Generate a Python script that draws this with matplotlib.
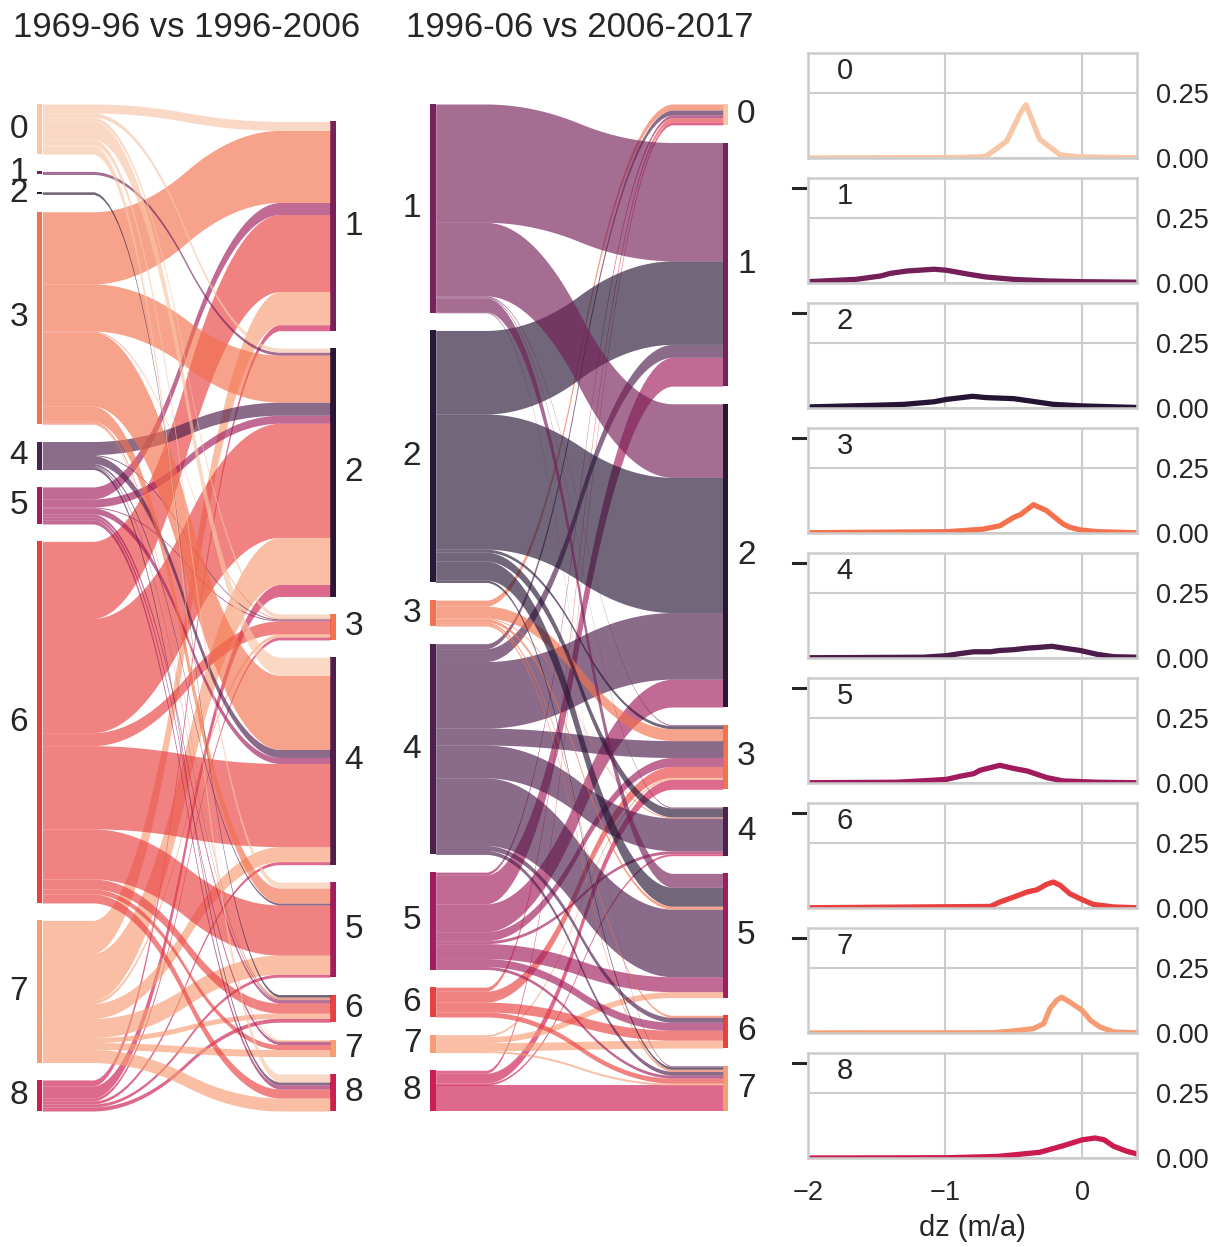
import numpy as np
import matplotlib
matplotlib.use("Agg")
import matplotlib.pyplot as plt
from matplotlib.lines import Line2D
import seaborn as sns

plt.rcParams['font.family'] = ['Liberation Sans', 'DejaVu Sans']
plt.rcParams['text.color'] = '#262626'

W, H = 1219, 1247

classes = [0, 1, 2, 3, 4, 5, 6, 7, 8]
# position of each class in the rocket palette (dark -> light)
shade = {2: 0, 4: 1, 1: 2, 5: 3, 8: 4, 6: 5, 3: 6, 7: 7, 0: 8}
pal = sns.color_palette("rocket", 9)
colors = {c: pal[shade[c]] for c in classes}

# --- transitions 1969-96 -> 1996-2006 (rows: left class, cols: right class)
title1 = "1969-96 vs 1996-2006"
left1 = [0, 1, 2, 3, 4, 5, 6, 7, 8]
right1 = [1, 2, 3, 4, 5, 6, 7, 8]
flow1 = [
    # 1    2    3    4    5    6    7    8
    [9,    4,   4,   18,  6,   0,   1,   8],    # 0
    [0,    3,   0,   0,   0,   0,   0,   0],    # 1
    [0,    0,   0,   0,   0,   2.6, 0,   0],    # 2
    [72,   47,  1,   74,  15,  2,   1,   0],    # 3
    [0,    13,  1,   8,   2,   1,   0,   3],    # 4
    [12,   8,   1,   6,   0,   3,   3,   4],    # 5
    [77,   114, 13,  83,  50,  10,  5,   9],    # 6
    [33,   47,  3,   15,  19,  5,   7,   13],   # 7
    [6,    12,  3,   3,   3,   4,   0,   0],    # 8
]

# --- transitions 1996-06 -> 2006-2017
title2 = "1996-06 vs 2006-2017"
left2 = [1, 2, 3, 4, 5, 6, 7, 8]
right2 = [0, 1, 2, 3, 4, 5, 6, 7]
flow2 = [
    # 0   1    2    3    4    5    6    7
    [0,   119, 74,  1,   1,   14,  0,   1],     # 1
    [0,   84,  136, 3,   9,   19,  0,   2.5],   # 2
    [6,   0,   0,   12,  1,   3,   2,   2],     # 3
    [5,   13,  67,  17,  33,  68,  5,   4],     # 4
    [3,   29,  28,  9,   3,   15,  8,   3],     # 5
    [4,   0,   0,   11,  0,   0,   10,  5],     # 6
    [0,   0,   0,   2,   0,   6,   8,   2],     # 7
    [3,   0,   0,   10,  2,   0,   0,   26],    # 8
]

# --- dz distributions per class (m/a vs density)
dz_0 = [-2.0, -0.9, -0.75, -0.7, -0.55, -0.45, -0.41, -0.31, -0.16, -0.02, 0.4]
dens_0 = [0.0, 0.002, 0.004, 0.007, 0.065, 0.174, 0.205, 0.072, 0.012, 0.004, 0.001]
dz_1 = [-2.0, -1.65, -1.47, -1.40, -1.28, -1.08, -0.99, -0.82, -0.70, -0.50, -0.26, 0.0, 0.4]
dens_1 = [0.005, 0.014, 0.027, 0.037, 0.046, 0.053, 0.049, 0.033, 0.023, 0.014, 0.008, 0.005, 0.003]
dz_2 = [-2.0, -1.47, -1.30, -1.08, -0.99, -0.80, -0.70, -0.50, -0.38, -0.21, 0.0, 0.4]
dens_2 = [0.004, 0.011, 0.014, 0.024, 0.033, 0.045, 0.040, 0.036, 0.027, 0.014, 0.008, 0.002]
dz_3 = [-2.0, -0.99, -0.87, -0.72, -0.60, -0.50, -0.45, -0.355, -0.26, -0.14, -0.09, -0.015, 0.11, 0.4]
dens_3 = [0.001, 0.005, 0.009, 0.015, 0.028, 0.060, 0.071, 0.109, 0.086, 0.035, 0.022, 0.012, 0.005, 0.001]
dz_4 = [-2.0, -1.16, -0.99, -0.89, -0.79, -0.67, -0.60, -0.50, -0.40, -0.31, -0.22, -0.11, -0.015, 0.11, 0.23, 0.4]
dens_4 = [0.001, 0.003, 0.009, 0.017, 0.024, 0.024, 0.029, 0.032, 0.038, 0.041, 0.045, 0.036, 0.029, 0.014, 0.005, 0.003]
dz_5 = [-2.0, -1.35, -1.11, -0.99, -0.89, -0.79, -0.745, -0.60, -0.50, -0.40, -0.26, -0.14, 0.11, 0.4]
dens_5 = [0.001, 0.003, 0.010, 0.014, 0.026, 0.036, 0.049, 0.068, 0.056, 0.046, 0.021, 0.008, 0.003, 0.001]
dz_6 = [-2.0, -0.67, -0.60, -0.50, -0.40, -0.33, -0.26, -0.21, -0.16, -0.09, 0.0, 0.08, 0.23, 0.4]
dens_6 = [0.001, 0.006, 0.023, 0.042, 0.062, 0.070, 0.091, 0.100, 0.087, 0.055, 0.032, 0.014, 0.004, 0.001]
dz_7 = [-2.0, -0.65, -0.50, -0.355, -0.28, -0.235, -0.185, -0.15, -0.09, 0.0, 0.06, 0.13, 0.23, 0.4]
dens_7 = [0.0, 0.001, 0.008, 0.017, 0.036, 0.094, 0.126, 0.138, 0.119, 0.087, 0.049, 0.023, 0.004, 0.001]
dz_8 = [-2.0, -0.99, -0.62, -0.50, -0.31, -0.14, 0.0, 0.095, 0.16, 0.23, 0.325, 0.39]
dens_8 = [0.0, 0.001, 0.006, 0.012, 0.022, 0.047, 0.070, 0.077, 0.070, 0.045, 0.026, 0.017]

dz_all = [dz_0, dz_1, dz_2, dz_3, dz_4, dz_5, dz_6, dz_7, dz_8]
dens_all = [dens_0, dens_1, dens_2, dens_3, dens_4, dens_5, dens_6, dens_7, dens_8]


def px_rect(x0, y0, x1, y1):
    # pixel box (origin top left) -> figure fraction rect
    return [x0 / W, 1 - y1 / H, (x1 - x0) / W, (y1 - y0) / H]


def smooth(y):
    y = np.convolve(y, 0.05 * np.ones(20), mode='valid')
    return np.convolve(y, 0.05 * np.ones(20), mode='valid')


def sankey(ax, flow, lefts, rights, fs=24):
    flow = np.asarray(flow, float)
    gap = 0.02 * flow.sum()

    def stack(labels, widths):
        pos, y = {}, 0.0
        for k, (lab, w) in enumerate(zip(labels[::-1], widths[::-1])):
            if k:
                y += gap
            pos[lab] = [y, y + w]
            y += w
        return pos

    lpos = stack(lefts, flow.sum(axis=1))
    rpos = stack(rights, flow.sum(axis=0))

    for lab, (b, t) in lpos.items():
        ax.fill_between([-0.02, 0], b, t, color=colors[lab], alpha=0.99, lw=0, clip_on=False)
        ax.text(-0.05, (b + t) / 2, str(lab), ha='right', va='center', fontsize=fs)
    for lab, (b, t) in rpos.items():
        ax.fill_between([1, 1.02], b, t, color=colors[lab], alpha=0.99, lw=0, clip_on=False)
        ax.text(1.05, (b + t) / 2, str(lab), ha='left', va='center', fontsize=fs)

    lcur = {k: v[0] for k, v in lpos.items()}
    rcur = {k: v[0] for k, v in rpos.items()}
    for li in range(len(lefts) - 1, -1, -1):
        ll = lefts[li]
        for ri in range(len(rights) - 1, -1, -1):
            rl = rights[ri]
            v = flow[li, ri]
            if v <= 0:
                continue
            yd = smooth(np.array(50 * [lcur[ll]] + 50 * [rcur[rl]]))
            yu = smooth(np.array(50 * [lcur[ll] + v] + 50 * [rcur[rl] + v]))
            xs = np.linspace(0, 1, len(yd))
            ax.fill_between(xs, yd, yu, color=colors[ll], alpha=0.65, lw=0, clip_on=False)
            lcur[ll] += v
            rcur[rl] += v

    ymax = max(max(t for b, t in lpos.values()), max(t for b, t in rpos.values()))
    ax.set_xlim(0, 1)
    ax.set_ylim(0, ymax)
    ax.axis('off')


fig = plt.figure(figsize=(W / 100, H / 100), dpi=100)

ax1 = fig.add_axes(px_rect(42.3, 104, 330, 1111))
sankey(ax1, flow1, left1, right1)
fig.text(187 / W, 1 - 37 / H, title1, ha='center', va='baseline', fontsize=25)

ax2 = fig.add_axes(px_rect(435.7, 104, 722.7, 1111))
sankey(ax2, flow2, left2, right2)
fig.text(580 / W, 1 - 37 / H, title2, ha='center', va='baseline', fontsize=25)

for i, c in enumerate(classes):
    top = 53 + 125 * i
    ax = fig.add_axes(px_rect(808, top, 1137, top + 105))
    ax.plot(dz_all[i], dens_all[i], color=colors[c], lw=3.8)
    ax.set_xlim(-2, 0.4)
    ax.set_ylim(0, 0.404)
    ax.set_xticks([-2, -1, 0])
    ax.set_yticks([0, 0.25])
    ax.set_yticklabels(['0.00', '0.25'])
    ax.grid(True, color='#cccccc', lw=1.5)
    ax.set_axisbelow(True)
    for s in ax.spines.values():
        s.set_color('#cccccc')
        s.set_linewidth(1.8)
    ax.yaxis.tick_right()
    ax.tick_params(length=0, labelsize=19.5, colors='#262626', pad=14)
    if i < len(classes) - 1:
        ax.set_xticklabels([])
    else:
        ax.tick_params(axis='x', pad=16)
    ax.text(0.112, 0.755, str(c), transform=ax.transAxes, ha='center',
            va='baseline', fontsize=21)
    if i > 0:
        ax.add_line(Line2D([-0.046, -0.01], [0.905, 0.905], transform=ax.transAxes,
                           color='#262626', lw=2.2, clip_on=False))

fig.text(972 / W, 1 - 1228 / H, "dz (m/a)", ha='center', va='center', fontsize=21)

fig.savefig("out.png", dpi=100)
